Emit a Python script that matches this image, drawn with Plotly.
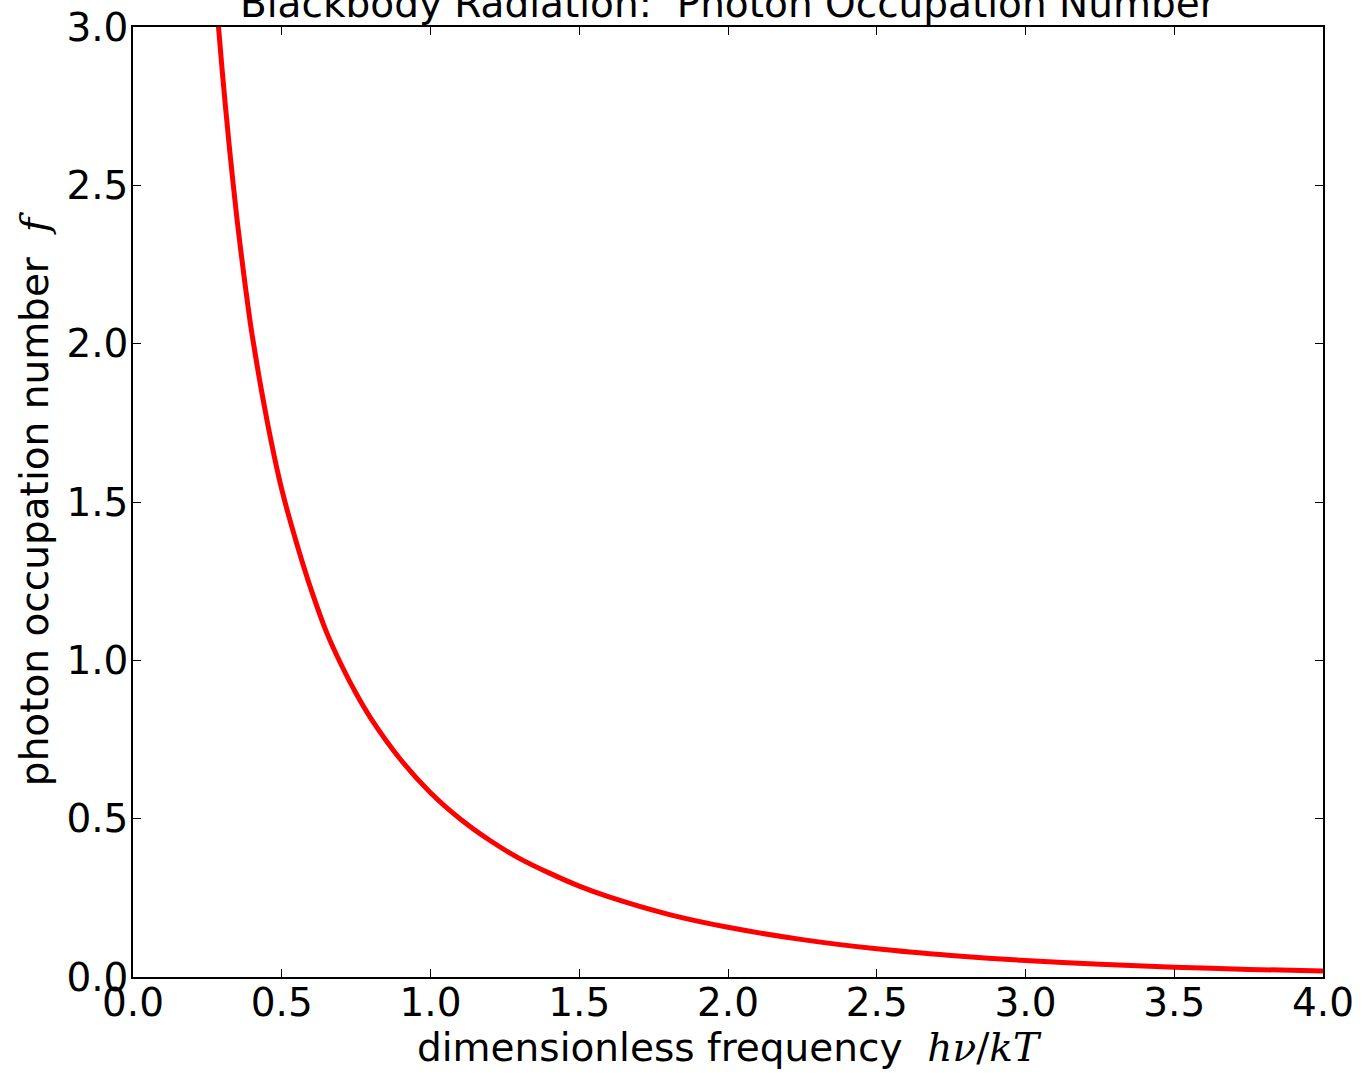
import plotly.graph_objects as go

# dimensionless frequency h nu / kT
freq = [0.25, 0.28, 0.30, 0.325, 0.35, 0.375, 0.40, 0.45, 0.50, 0.55, 0.60, 0.65, 0.70,
        0.75, 0.80, 0.90, 1.00, 1.10, 1.20, 1.30, 1.40, 1.50, 1.60, 1.80, 2.00,
        2.25, 2.50, 2.75, 3.00, 3.25, 3.50, 3.75, 4.00]
# photon occupation number f
occupation = [3.52, 3.09, 2.86, 2.61, 2.39, 2.20, 2.03, 1.76, 1.54, 1.37, 1.22, 1.09, 0.986,
              0.895, 0.816, 0.686, 0.582, 0.499, 0.431, 0.374, 0.328, 0.287, 0.253, 0.198, 0.157,
              0.118, 0.089, 0.068, 0.052, 0.040, 0.031, 0.024, 0.019]

x_ticks = [0.0, 0.5, 1.0, 1.5, 2.0, 2.5, 3.0, 3.5, 4.0]
y_ticks = [0.0, 0.5, 1.0, 1.5, 2.0, 2.5, 3.0]

TITLE = "Blackbody Radiation:\u00a0\u00a0Photon Occupation Number"
FONT = "DejaVu Sans"
FS = 39
MATH = "font-family:'DejaVu Serif',serif"

fig = go.Figure()
fig.add_trace(go.Scatter(
    x=freq, y=occupation, mode="lines",
    line=dict(color="#ff0000", width=5, shape="spline", smoothing=0.8),
    showlegend=False,
))

axis_common = dict(
    showgrid=False, zeroline=False, automargin=False,
    showline=True, linecolor="black", linewidth=1.5, mirror="allticks",
    ticks="inside", ticklen=8, tickwidth=1, tickcolor="black",
    ticklabeloverflow="allow",
    tickfont=dict(family=FONT, size=FS, color="black"),
)

fig.update_xaxes(
    range=[0, 4], tickvals=x_ticks, ticktext=[f"{v:.1f}" for v in x_ticks],
    ticklabelstandoff=-10,
    title=dict(text="dimensionless frequency\u00a0\u00a0<span style=\"" + MATH + "\"><i>hν</i>/<i>kT</i></span>",
               font=dict(family=FONT, size=FS, color="black"), standoff=0),
    **axis_common,
)
fig.update_yaxes(
    range=[0, 3], tickvals=y_ticks, ticktext=[f"{v:.1f}" for v in y_ticks],
    ticklabelstandoff=-5,
    title=dict(text="photon occupation number\u00a0\u00a0<span style=\"" + MATH + "\"><i>f</i></span>",
               font=dict(family=FONT, size=FS, color="black"), standoff=6),
    **axis_common,
)

fig.add_annotation(
    text=TITLE, showarrow=False,
    xref="paper", yref="paper", x=0.5, y=1, xanchor="center", yanchor="bottom",
    yshift=-1, font=dict(family=FONT, size=FS, color="black"),
)

fig.update_layout(
    template="none",
    width=1362, height=1073,
    margin=dict(l=133, r=39, t=27, b=96, autoexpand=False),
    paper_bgcolor="white", plot_bgcolor="white",
)

# remove the default body margin so the figure fills the window exactly
fig.write_html(
    "out.html",
    config={"displayModeBar": False},
    post_script="document.body.style.margin='0';document.body.style.overflow='hidden';",
)
